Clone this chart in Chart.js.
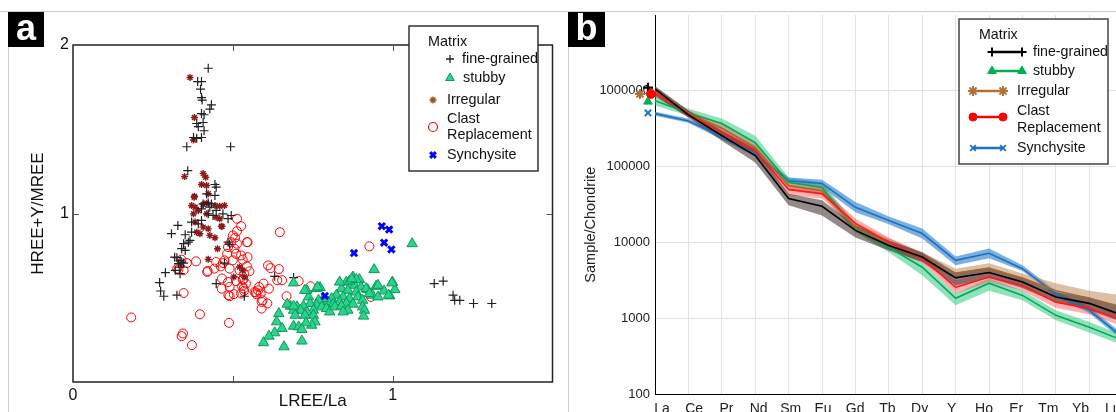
<!DOCTYPE html>
<html>
<head>
<meta charset="utf-8">
<script src="https://cdn.jsdelivr.net/npm/chart.js@4.4.1/dist/chart.umd.min.js"></script>
<style>
  body { margin: 0; width: 1116px; height: 412px; overflow: hidden; background: #fff; position: relative; font-family: "Liberation Sans", Arial, sans-serif; }
  .frame-top { position: absolute; left: 0; top: 11px; width: 1116px; height: 1px; background: #cccccc; }
  .frame-left { position: absolute; top: 11px; width: 1px; height: 401px; background: #cccccc; }
  .tag { position: absolute; top: 12px; height: 35px; background: #000; color: #fff; font-weight: bold; font-size: 36px; line-height: 31px; text-align: center; }
  canvas { position: absolute; }
</style>
</head>
<body>
<div class="frame-top"></div>
<div class="frame-left" style="left:8px"></div>
<div class="frame-left" style="left:568px"></div>
<canvas id="chartA" width="551" height="400" style="left:9px; top:12px"></canvas>
<canvas id="chartB" width="547" height="401" style="left:569px; top:11px"></canvas>
<div class="tag" style="left:8px; width:36px">a</div>
<div class="tag" style="left:568px; width:37px">b</div>
<script>
// ---------- panel a : LREE/La vs HREE+Y/MREE ----------
const xTicksA = [0, 0.5, 1, 1.5];
const yTicksA = [0, 1, 2];

const fineGrained = [[0.423,1.862],[0.390,1.783],[0.402,1.783],[0.399,1.738],[0.402,1.688],[0.404,1.673],[0.433,1.645],[0.428,1.620],[0.402,1.593],[0.410,1.586],[0.407,1.540],[0.392,1.515],[0.387,1.534],[0.410,1.491],[0.377,1.451],[0.387,1.446],[0.402,1.451],[0.356,1.396],[0.493,1.396],[0.359,1.254],[0.444,1.172],[0.448,1.156],[0.418,1.117],[0.444,1.107],[0.407,1.057],[0.423,1.063],[0.433,1.057],[0.402,1.028],[0.428,1.037],[0.448,1.018],[0.469,0.998],[0.495,0.988],[0.485,0.969],[0.423,0.998],[0.438,0.988],[0.371,0.949],[0.392,0.939],[0.402,0.959],[0.328,0.929],[0.308,0.880],[0.351,0.874],[0.366,0.840],[0.371,0.889],[0.346,0.821],[0.361,0.830],[0.340,0.791],[0.351,0.781],[0.318,0.741],[0.325,0.738],[0.335,0.722],[0.340,0.712],[0.346,0.706],[0.330,0.702],[0.335,0.682],[0.289,0.649],[0.320,0.663],[0.335,0.643],[0.271,0.590],[0.274,0.540],[0.284,0.509],[0.325,0.515],[0.448,0.584],[0.474,0.706],[0.485,0.830],[0.490,0.817],[0.536,0.509],[0.690,0.620],[0.631,0.627],[1.130,0.584],[1.158,0.599],[1.189,0.515],[1.194,0.485],[1.210,0.485],[1.253,0.466],[1.310,0.466]];

const stubby = [[1.061,0.821],[0.942,0.667],[0.999,0.593],[1.007,0.548],[0.973,0.540],[0.991,0.511],[0.948,0.568],[0.954,0.574],[0.876,0.623],[0.896,0.608],[0.855,0.593],[0.881,0.574],[0.901,0.564],[0.922,0.548],[0.937,0.515],[0.840,0.554],[0.860,0.544],[0.886,0.534],[0.824,0.515],[0.845,0.505],[0.865,0.495],[0.891,0.505],[0.906,0.485],[0.809,0.495],[0.798,0.475],[0.814,0.462],[0.834,0.475],[0.855,0.466],[0.876,0.462],[0.783,0.495],[0.768,0.485],[0.762,0.456],[0.778,0.446],[0.793,0.436],[0.803,0.416],[0.819,0.446],[0.840,0.450],[0.860,0.426],[0.845,0.416],[0.906,0.446],[0.912,0.426],[0.909,0.391],[0.737,0.505],[0.731,0.544],[0.762,0.554],[0.742,0.466],[0.721,0.450],[0.701,0.446],[0.680,0.450],[0.752,0.426],[0.731,0.416],[0.711,0.426],[0.690,0.426],[0.752,0.396],[0.726,0.396],[0.695,0.396],[0.644,0.406],[0.637,0.357],[0.757,0.357],[0.747,0.337],[0.729,0.351],[0.690,0.331],[0.706,0.327],[0.716,0.312],[0.654,0.318],[0.631,0.292],[0.613,0.272],[0.596,0.233],[0.660,0.209],[0.716,0.243],[0.670,0.462],[0.690,0.450],[0.773,0.560],[0.834,0.593],[0.865,0.599],[0.886,0.608],[0.917,0.554],[0.927,0.525],[0.954,0.505],[0.690,0.588],[0.725,0.544],[0.765,0.564],[0.998,0.588],[0.987,0.515],[0.872,0.613]];

const irregular = [[0.366,1.807],[0.380,1.570],[0.377,1.436],[0.349,1.219],[0.407,1.238],[0.415,1.215],[0.402,1.172],[0.418,1.166],[0.380,1.102],[0.423,1.117],[0.371,1.047],[0.382,1.037],[0.407,1.053],[0.418,1.061],[0.444,1.047],[0.459,1.043],[0.474,1.047],[0.377,0.998],[0.392,1.018],[0.418,0.998],[0.448,0.978],[0.459,0.969],[0.382,0.949],[0.407,0.919],[0.423,0.909],[0.387,0.889],[0.397,0.880],[0.428,0.870],[0.464,0.925],[0.444,0.856],[0.452,0.791],[0.423,0.728],[0.521,0.682],[0.531,0.663],[0.503,0.623],[0.536,0.623],[0.379,1.096],[0.466,0.923]];

const clastReplacement = [[0.513,0.969],[0.526,0.925],[0.513,0.895],[0.500,0.870],[0.507,0.856],[0.495,0.830],[0.513,0.821],[0.544,0.830],[0.485,0.801],[0.505,0.791],[0.482,0.761],[0.510,0.761],[0.526,0.751],[0.474,0.722],[0.500,0.722],[0.531,0.726],[0.448,0.712],[0.469,0.706],[0.385,0.716],[0.421,0.659],[0.442,0.673],[0.462,0.686],[0.490,0.673],[0.521,0.663],[0.544,0.686],[0.552,0.657],[0.466,0.614],[0.485,0.593],[0.510,0.599],[0.531,0.608],[0.541,0.584],[0.490,0.564],[0.534,0.554],[0.490,0.509],[0.503,0.521],[0.526,0.525],[0.339,0.726],[0.356,0.706],[0.330,0.667],[0.346,0.663],[0.346,0.528],[0.397,0.402],[0.488,0.351],[0.344,0.288],[0.340,0.272],[0.647,0.889],[0.610,0.692],[0.618,0.676],[0.644,0.670],[0.596,0.584],[0.582,0.564],[0.572,0.531],[0.613,0.554],[0.587,0.525],[0.593,0.485],[0.590,0.436],[0.639,0.604],[0.654,0.604],[0.668,0.509],[0.608,0.466],[0.182,0.383],[0.372,0.219],[0.326,0.673],[0.420,0.653],[0.465,0.554],[0.486,0.515],[0.927,0.805],[0.743,0.568],[0.706,0.599],[0.590,0.475],[0.568,0.534],[0.574,0.521],[0.579,0.544],[0.932,0.505],[0.546,0.830],[0.535,0.643],[0.533,0.608],[0.529,0.568],[0.535,0.540],[0.546,0.741]];

const synchysite = [[0.966,0.925],[0.989,0.905],[0.973,0.827],[0.996,0.787],[0.879,0.765],[0.788,0.511]];

// ---------- panel b : chondrite normalised REE ----------
const elements = ['La','Ce','Pr','Nd','Sm','Eu','Gd','Tb','Dy','Y','Ho','Er','Tm','Yb','Lu'];
const yTicksB = [100, 1000, 10000, 100000, 1000000];

const fineMean = [1.06e6, 4.8e5, 2.56e5, 1.40e5, 3.8e4, 3.0e4, 1.44e4, 9.1e3, 6.4e3, 3.4e3, 4.0e3, 3.0e3, 1.9e3, 1.57e3, 1.09e3];
const fineHigh = [1.16e6, 5.5e5, 3.0e5, 1.73e5, 4.4e4, 3.6e4, 1.67e4, 1.06e4, 7.4e3, 4.0e3, 4.7e3, 3.4e3, 2.2e3, 1.89e3, 1.36e3];
const fineLow  = [8.6e5, 4.4e5, 2.2e5, 1.13e5, 3.1e4, 2.27e4, 1.16e4, 7.8e3, 5.5e3, 2.7e3, 3.4e3, 2.5e3, 1.62e3, 1.27e3, 890];

const stubbyMean = [7.4e5, 5.1e5, 3.7e5, 2.07e5, 6.2e4, 5.3e4, 1.53e4, 8.6e3, 4.7e3, 1.83e3, 2.9e3, 2.0e3, 1.09e3, 760, 510];
const stubbyHigh = [8.6e5, 5.8e5, 4.3e5, 2.56e5, 7.2e4, 6.2e4, 1.73e4, 9.7e3, 5.3e3, 2.1e3, 3.4e3, 2.3e3, 1.27e3, 890, 600];
const stubbyLow  = [6.4e5, 4.7e5, 3.2e5, 1.73e5, 5.5e4, 4.5e4, 1.36e4, 7.4e3, 3.7e3, 1.48e3, 2.3e3, 1.73e3, 940, 650, 440];

const irrMean = [1.0e6, 5.0e5, 3.2e5, 1.78e5, 5.6e4, 4.8e4, 1.57e4, 9.7e3, 6.4e3, 3.9e3, 4.5e3, 3.4e3, 2.3e3, 1.83e3, 1.40e3];
const irrHigh = [1.13e6, 5.5e5, 3.7e5, 2.07e5, 6.5e4, 5.6e4, 1.83e4, 1.13e4, 7.4e3, 4.5e3, 5.3e3, 3.9e3, 2.9e3, 2.3e3, 2.0e3];
const irrLow  = [8.9e5, 4.5e5, 2.7e5, 1.53e5, 4.8e4, 4.2e4, 1.36e4, 8.3e3, 5.5e3, 3.4e3, 3.9e3, 2.9e3, 1.89e3, 1.48e3, 1.0e3];

const clastMean = [9.4e5, 5.0e5, 2.8e5, 1.62e5, 5.0e4, 4.4e4, 1.78e4, 1.0e4, 6.2e3, 2.56e3, 3.5e3, 2.7e3, 1.63e3, 1.35e3, 940];
const clastHigh = [1.06e6, 5.5e5, 3.3e5, 1.89e5, 5.8e4, 5.1e4, 2.07e4, 1.16e4, 7.2e3, 3.2e3, 4.0e3, 3.2e3, 1.95e3, 1.62e3, 1.13e3];
const clastLow  = [8.3e5, 4.5e5, 2.4e5, 1.40e5, 4.2e4, 3.8e4, 1.53e4, 8.6e3, 5.3e3, 2.1e3, 3.0e3, 2.3e3, 1.36e3, 1.13e3, 780];

const synMean = [5.0e5, 4.0e5, 2.48e5, 1.48e5, 6.5e4, 6.0e4, 2.9e4, 1.95e4, 1.31e4, 5.8e3, 7.2e3, 4.5e3, 2.1e3, 1.27e3, 560];
const synHigh = [5.3e5, 4.3e5, 2.7e5, 1.62e5, 7.2e4, 6.7e4, 3.4e4, 2.2e4, 1.53e4, 6.5e3, 8.3e3, 5.0e3, 2.3e3, 1.40e3, 620];
const synLow  = [4.7e5, 3.8e5, 2.27e5, 1.36e5, 6.0e4, 5.3e4, 2.5e4, 1.73e4, 1.13e4, 5.0e3, 6.2e3, 4.2e3, 1.95e3, 1.16e3, 510];

// symbols drawn just left of La (fine, stubby, irregular, clast, synchysite)
const laMarkX = [-0.21, -0.21, -0.45, -0.12, -0.21];
const laMarkY = [1.1e6, 7.2e5, 9.1e5, 9.1e5, 5.1e5];

const FONT = '"Liberation Sans", Arial, sans-serif';

function xy(pairs) { return pairs.map(p => ({x: p[0], y: p[1]})); }
function pts(vals) { return vals.map((v, i) => ({x: i, y: v})); }

function marker(ctx, style, x, y, r, color, fill, lw) {
    ctx.save();
    ctx.strokeStyle = color;
    ctx.fillStyle = fill;
    ctx.lineWidth = lw;
    Chart.helpers.drawPoint(ctx, {pointStyle: style, radius: r, rotation: 0, borderWidth: lw}, x, y);
    ctx.restore();
}

function legendA(ctx) {
    ctx.fillStyle = '#fff';
    ctx.fillRect(400, 14, 129, 145);
    ctx.strokeStyle = '#333';
    ctx.lineWidth = 1.5;
    ctx.strokeRect(400, 14, 129, 145);
    ctx.font = '14.4px ' + FONT;
    ctx.fillStyle = '#111';
    ctx.textBaseline = 'middle';
    ctx.textAlign = 'left';
    ctx.fillText('Matrix', 419, 30);
    ctx.fillText('fine-grained', 453, 47);
    ctx.fillText('stubby', 454, 66);
    ctx.fillText('Irregular', 438, 88);
    ctx.fillText('Clast', 438, 107);
    ctx.fillText('Replacement', 438, 123);
    ctx.fillText('Synchysite', 438, 143);
    marker(ctx, 'cross', 441, 47, 4, '#222', 'rgba(0,0,0,0)', 1.3);
    marker(ctx, 'triangle', 441, 66, 5, '#0c9a5a', '#2bd38c', 1);
    marker(ctx, 'star', 424, 88, 3.5, '#a0522d', 'rgba(0,0,0,0)', 1.5);
    marker(ctx, 'circle', 424, 115, 4.5, '#ff0000', 'rgba(0,0,0,0)', 1.2);
    marker(ctx, 'crossRot', 424, 143, 4, '#0000ff', 'rgba(0,0,0,0)', 3);
}

const frameA = {
    id: 'frameA',
    afterDraw(chart) {
        const {ctx, chartArea: a, scales: {x, y}} = chart;
        ctx.save();
        ctx.strokeStyle = '#222';
        ctx.lineWidth = 1.5;
        ctx.strokeRect(a.left, a.top, a.right - a.left, a.bottom - a.top);
        ctx.lineWidth = 1;
        ctx.strokeStyle = '#555';
        ctx.beginPath();
        xTicksA.forEach(v => {
            if (v <= x.min || v >= x.max) return;
            const px = Math.round(x.getPixelForValue(v)) + 0.5;
            ctx.moveTo(px, a.bottom); ctx.lineTo(px, a.bottom - 6);
            ctx.moveTo(px, a.top); ctx.lineTo(px, a.top + 6);
        });
        yTicksA.forEach(v => {
            if (v <= y.min || v >= y.max) return;
            const py = Math.round(y.getPixelForValue(v)) + 0.5;
            ctx.moveTo(a.left, py); ctx.lineTo(a.left + 6, py);
            ctx.moveTo(a.right, py); ctx.lineTo(a.right - 6, py);
        });
        ctx.stroke();
        legendA(ctx);
        ctx.restore();
    }
};

new Chart(document.getElementById('chartA'), {
    type: 'scatter',
    data: {
        datasets: [
            {label: 'Synchysite', data: xy(synchysite), pointStyle: 'crossRot', radius: 4.5, borderWidth: 3, borderColor: '#0000ff', order: 0},
            {label: 'stubby', data: xy(stubby), pointStyle: 'triangle', radius: 6, borderWidth: 1, borderColor: '#0c9a5a', backgroundColor: '#2bd38c', order: 1},
            {label: 'fine-grained', data: xy(fineGrained), pointStyle: 'cross', radius: 4.5, borderWidth: 1.2, borderColor: '#222', order: 2},
            {label: 'Irregular', data: xy(irregular), pointStyle: 'star', radius: 3.5, borderWidth: 1.4, borderColor: '#8b1a1a', order: 3},
            {label: 'Clast Replacement', data: xy(clastReplacement), pointStyle: 'circle', radius: 4.5, borderWidth: 1, borderColor: '#ff0000', backgroundColor: 'rgba(0,0,0,0)', order: 4}
        ]
    },
    options: {
        responsive: false,
        animation: false,
        devicePixelRatio: 1,
        layout: {padding: {top: 33, right: 4, left: 0, bottom: 0}},
        plugins: {legend: {display: false}, tooltip: {enabled: false}},
        scales: {
            x: {
                type: 'linear', min: 0, max: 1.5,
                grid: {display: false, drawTicks: false}, border: {display: false},
                afterBuildTicks: s => { s.ticks = xTicksA.map(v => ({value: v})); },
                afterFit: s => { s.height = 30; s.paddingLeft = 0; s.paddingRight = 0; },
                ticks: {autoSkip: false, padding: 4, color: '#111', font: {family: FONT, size: 16},
                        callback: v => (v === 0 || v === 1) ? String(v) : ''},
                title: {display: true, text: 'LREE/La', color: '#111', font: {family: FONT, size: 17}, padding: {top: 0, bottom: 0}}
            },
            y: {
                type: 'linear', min: 0, max: 2,
                grid: {display: false, drawTicks: false}, border: {display: false},
                afterBuildTicks: s => { s.ticks = yTicksA.map(v => ({value: v})); },
                afterFit: s => { s.width = 64; s.paddingTop = 0; s.paddingBottom = 0; },
                ticks: {autoSkip: false, padding: 4, color: '#111', font: {family: FONT, size: 16},
                        callback: v => v === 0 ? '' : String(v)},
                title: {display: true, text: 'HREE+Y/MREE', color: '#111', font: {family: FONT, size: 17}, padding: {top: 19, bottom: 0}}
            }
        }
    },
    plugins: [frameA]
});

// ---------- panel b ----------
const laStyles = [
    ['cross', '#000000', 'rgba(0,0,0,0)', 5, 2.2],
    ['triangle', '#00b050', '#00b050', 5, 1],
    ['star', '#b0703a', 'rgba(0,0,0,0)', 5, 2],
    ['circle', '#ff0000', '#ff0000', 4.5, 1],
    ['crossRot', '#1a73c8', 'rgba(0,0,0,0)', 4.5, 2]
];

function legendB(ctx) {
    ctx.fillStyle = '#fff';
    ctx.fillRect(390, 8, 149, 145);
    ctx.strokeStyle = '#444';
    ctx.lineWidth = 1.5;
    ctx.strokeRect(390, 8, 149, 145);
    ctx.font = '14.2px ' + FONT;
    ctx.fillStyle = '#111';
    ctx.textBaseline = 'middle';
    ctx.textAlign = 'left';
    ctx.fillText('Matrix', 410, 24);
    ctx.fillText('fine-grained', 464, 41);
    ctx.fillText('stubby', 464, 60);
    ctx.fillText('Irregular', 448, 80);
    ctx.fillText('Clast', 448, 100);
    ctx.fillText('Replacement', 448, 117);
    ctx.fillText('Synchysite', 448, 137);
    const rows = [
        [423, 453, 41, '#000000', 'cross', 4.5, 2],
        [423, 453, 60, '#00b050', 'triangle', 5, 1],
        [404, 434, 80, '#b0703a', 'star', 5, 2],
        [404, 434, 106, '#ff0000', 'circle', 4, 1],
        [404, 434, 137, '#1a73c8', 'crossRot', 4, 1.8]
    ];
    rows.forEach(([x0, x1, yy, col, st, r, lw]) => {
        ctx.save();
        ctx.strokeStyle = col;
        ctx.lineWidth = 2.5;
        ctx.beginPath();
        ctx.moveTo(x0, yy); ctx.lineTo(x1, yy);
        ctx.stroke();
        ctx.restore();
        const f = (st === 'triangle' || st === 'circle') ? col : 'rgba(0,0,0,0)';
        marker(ctx, st, x0, yy, r, col, f, lw);
        marker(ctx, st, x1, yy, r, col, f, lw);
    });
}

const pluginB = {
    id: 'extrasB',
    afterDatasetsDraw(chart) {
        // La-end symbols sit left of the axis, outside the clip area
        const {ctx, scales: {x, y}} = chart;
        laStyles.forEach(([st, col, fill, r, lw], i) => {
            marker(ctx, st, x.getPixelForValue(laMarkX[i]), y.getPixelForValue(laMarkY[i]), r, col, fill, lw);
        });
    },
    afterDraw(chart) {
        const ctx = chart.ctx;
        ctx.save();
        legendB(ctx);
        ctx.restore();
    }
};

function band(low, high, color, order) {
    return [
        {data: pts(low), borderWidth: 0, borderColor: 'rgba(0,0,0,0)', pointRadius: 0, fill: false, order},
        {data: pts(high), borderWidth: 0, borderColor: 'rgba(0,0,0,0)', pointRadius: 0, fill: '-1', backgroundColor: color, order}
    ];
}
function meanLine(vals, color, order) {
    return {data: pts(vals), borderColor: color, borderWidth: 1.6, pointRadius: 0, fill: false, order};
}

new Chart(document.getElementById('chartB'), {
    type: 'line',
    data: {
        datasets: [
            ...band(stubbyLow, stubbyHigh, 'rgba(30,200,120,0.5)', 14),
            ...band(synLow, synHigh, 'rgba(35,125,205,0.6)', 13),
            ...band(irrLow, irrHigh, 'rgba(190,140,95,0.55)', 12),
            ...band(clastLow, clastHigh, 'rgba(255,80,80,0.45)', 11),
            ...band(fineLow, fineHigh, 'rgba(60,42,36,0.55)', 10),
            meanLine(synMean, '#1f6fc0', 5),
            meanLine(stubbyMean, '#00a85a', 4),
            meanLine(irrMean, '#a8672e', 3),
            meanLine(clastMean, '#ff1a1a', 2),
            meanLine(fineMean, '#000000', 1)
        ]
    },
    options: {
        responsive: false,
        animation: false,
        devicePixelRatio: 1,
        layout: {padding: {top: 4, right: 0, left: 0, bottom: 0}},
        plugins: {legend: {display: false}, tooltip: {enabled: false}},
        elements: {line: {tension: 0}},
        scales: {
            x: {
                type: 'linear', min: 0, max: 13.8, weight: 0,
                grid: {color: '#e2e2e2', drawTicks: false},
                border: {display: true, color: '#000', width: 1},
                afterBuildTicks: s => { s.ticks = elements.map((e, i) => ({value: i})); },
                afterFit: s => { s.height = 0; s.paddingLeft = 0; s.paddingRight = 0; },
                ticks: {display: false}
            },
            xl: {
                type: 'linear', position: 'bottom', min: -0.217, max: 14.1, weight: 1,
                grid: {display: false, drawTicks: false}, border: {display: false},
                afterBuildTicks: s => { s.ticks = elements.map((e, i) => ({value: i})); },
                afterFit: s => { s.height = 18; s.paddingLeft = 0; s.paddingRight = 0; },
                ticks: {autoSkip: false, maxRotation: 0, padding: 7, color: '#222', font: {family: FONT, size: 14},
                        callback: (v, i) => elements[i]}
            },
            y: {
                type: 'logarithmic', min: 100, max: 1e7,
                grid: {color: '#e2e2e2', drawTicks: false},
                border: {display: true, color: '#000', width: 1},
                afterBuildTicks: s => { s.ticks = yTicksB.map(v => ({value: v})); },
                afterFit: s => { s.width = 86; s.paddingTop = 0; s.paddingBottom = 0; },
                ticks: {autoSkip: false, padding: 5, color: '#222', font: {family: FONT, size: 13},
                        callback: v => String(v)},
                // trailing spaces nudge the rotated title down to where the original sits
                title: {display: true, text: 'Sample/Chondrite          ', color: '#222', font: {family: FONT, size: 14.5}, padding: {top: 13, bottom: 0}}
            }
        }
    },
    plugins: [pluginB]
});
</script>
</body>
</html>
